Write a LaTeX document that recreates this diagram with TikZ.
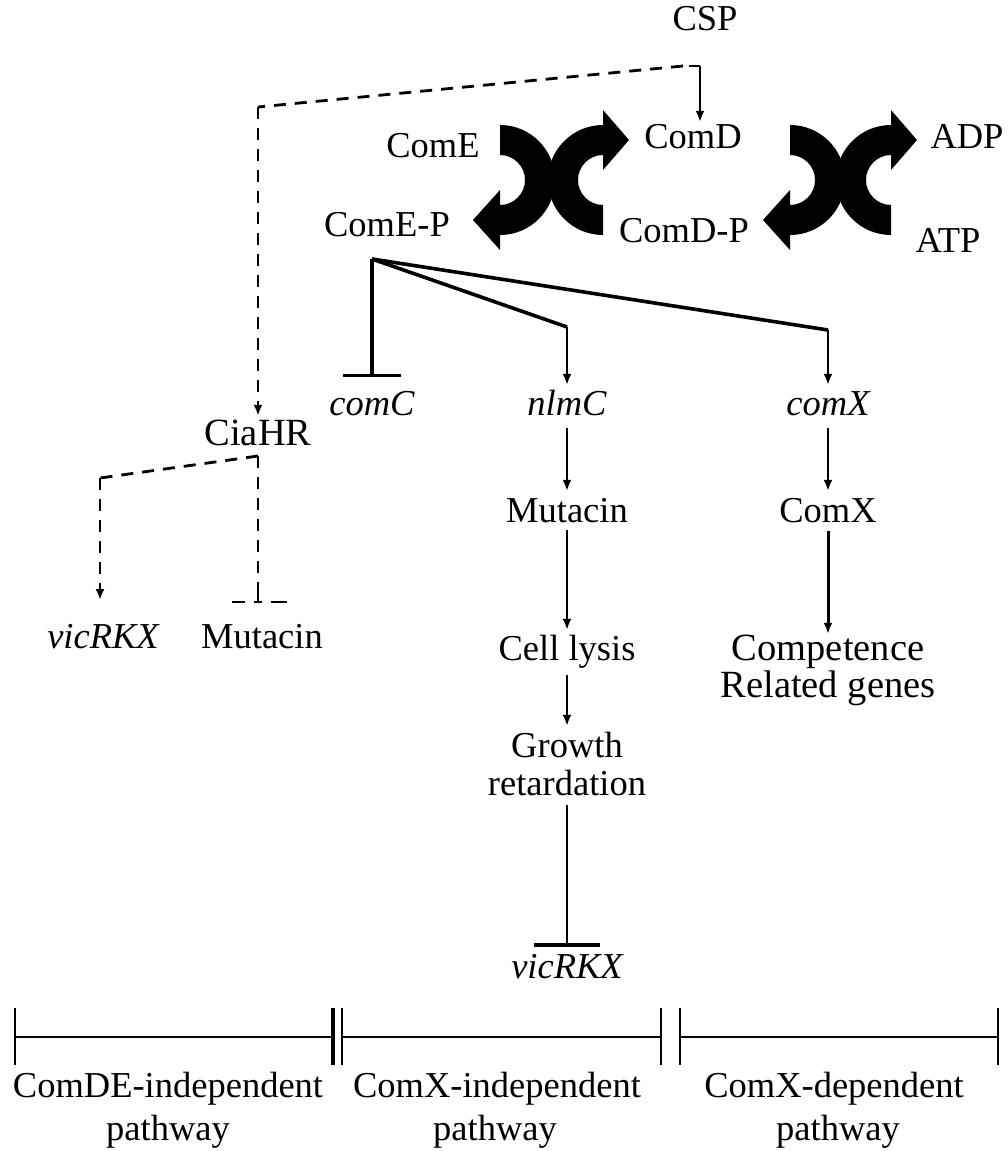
\documentclass[tikz,border=0pt]{standalone}
\usepackage{fontspec}
\setmainfont{Liberation Serif}
\usetikzlibrary{arrows.meta}
\begin{document}
\begin{tikzpicture}[x=1pt,y=-1pt,
  lbl/.style={inner sep=0pt, anchor=base, text height=25pt, text depth=8pt,
              font=\fontsize{36.5}{40}\selectfont},
  biglbl/.style={lbl, font=\fontsize{38.5}{42}\selectfont},
  gene/.style={lbl, font=\fontsize{36.5}{40}\selectfont\itshape},
  thinln/.style={line width=2pt},
  act/.style={thinln, -{Latex[length=11pt,width=9pt]}},
  fanln/.style={line width=3.6pt},
  dashln/.style={line width=2.8pt, dash pattern=on 12pt off 9pt},
  barln/.style={line width=2.6pt},
  twist/.style={fill=black}
]
\useasboundingbox (0,0) rectangle (1007,1151);

% ---------- labels ----------
\node[lbl] (csp)   at (705,30)  {CSP};
\node[lbl] (comE)  at (433,157) {ComE};
\node[lbl] (comD)  at (693,148) {ComD};
\node[lbl] (comEP) at (387,236) {ComE-P};
\node[lbl] (comDP) at (684,242) {ComD-P};
\node[lbl] (adp)   at (967,148) {ADP};
\node[lbl] (atp)   at (948,252) {ATP};

\node[gene] (comC) at (372,415) {comC};
\node[gene] (nlmC) at (567,415) {nlmC};
\node[gene] (comXg) at (828,415) {comX};

\node[biglbl] (cia)  at (258,445) {CiaHR};
\node[gene] (vicL) at (103,648) {vicRKX};
\node[lbl] (mutL) at (262,648) {Mutacin};

\node[lbl] (mut)   at (567,522) {Mutacin};
\node[lbl] (lysis) at (567,660) {Cell lysis};
\node[lbl] (grow)  at (567,757) {Growth};
\node[lbl] (ret)   at (567,795) {retardation};
\node[gene] (vicB) at (567,978) {vicRKX};

\node[lbl] (comX)  at (828,522) {ComX};
\node[biglbl] (comp)  at (828,660) {Competence};
\node[biglbl] (rel)   at (828,697) {Related genes};

% ---------- two-component phosphorelay (twisted arrows) ----------
\foreach \cx in {500,790}{
  \fill[twist] (\cx,125) arc[start angle=-90,end angle=90,radius=55]
     -- (\cx,250) -- (\cx-27,220) -- (\cx,190) -- (\cx,205)
     arc[start angle=90,end angle=-90,radius=25] -- cycle;
}
\foreach \cx in {603,891}{
  \fill[twist] (\cx,235) arc[start angle=90,end angle=270,radius=55]
     -- (\cx,110) -- (\cx+26,140) -- (\cx,170) -- (\cx,155)
     arc[start angle=270,end angle=90,radius=25] -- cycle;
}

% ---------- CSP signal ----------
\coordinate (split) at (700,66);
\coordinate (dstart) at (683,66);
\coordinate (dcorner) at (258,107);
\draw[thinln] (689,66) -- (split);
\draw[act, shorten >=1pt] (split) -- (split |- comD.north);
\draw[dashln] (dstart) -- (dcorner);
\draw[dashln, -{Latex[length=11pt,width=9pt]}, shorten >=4pt] (dcorner) -- (cia.north);

% ---------- ComE-P targets ----------
\coordinate (fan) at (372,259);
\coordinate (nbend) at (567,327);
\coordinate (xbend) at (828,330);
\draw[fanln, -{Bar[width=58pt,line width=2.6pt]}, shorten >=13pt] (fan) -- (fan |- comC.north);
\draw[fanln, line join=round] (fan) -- (nbend);
\draw[act, shorten >=5pt] (nbend) -- (nlmC.north);
\draw[fanln, line join=round] (fan) -- (xbend);
\draw[act, shorten >=5pt] (xbend) -- (comXg.north);

% ---------- ComX-independent branch ----------
\draw[act, shorten <=5pt, shorten >=6pt] (nlmC.south) -- (mut.north);
\draw[act, shorten <=0pt, shorten >=5pt] (mut.south) -- (lysis.north);
\draw[act, shorten <=7pt, shorten >=6pt] (lysis.south) -- (grow.north);
\draw[line width=2.8pt, -{Bar[width=66pt,line width=3.4pt]}, shorten <=2pt, shorten >=6pt]
  (ret.south) -- (vicB.north);

% ---------- ComX-dependent branch ----------
\draw[act, shorten <=5pt, shorten >=6pt] (comXg.south) -- (comX.north);
\draw[line width=3pt, -{Latex[length=11pt,width=9pt]}, shorten <=1pt, shorten >=1pt]
  (comX.south) -- (comp.north);

% ---------- CiaHR branch ----------
\coordinate (cbot) at (258,456);
\coordinate (vcorner) at (100,478);
\coordinate (vtip) at (100,600);
\coordinate (barL) at (232,602);
\coordinate (barR) at (287,602);
\coordinate (stub) at (258,590);
\draw[dashln] (cbot) -- (vcorner);
\draw[dashln, -{Latex[length=11pt,width=9pt]}] (vcorner) -- (vtip);
\draw[dashln] (cbot) -- (stub);
\draw[line width=2.6pt] (stub) -- (cbot |- barL);
\draw[barln, dash pattern=on 13pt off 9pt on 8pt off 9pt on 16pt] (barL) -- (barR);

% ---------- pathway scale bar ----------
\coordinate (s0) at (15,1037);
\coordinate (s1) at (333,1037);
\coordinate (s2) at (342,1037);
\coordinate (s3) at (661,1037);
\coordinate (s4) at (680,1037);
\coordinate (s5) at (998,1037);
\draw[barln] (s0) -- (s1);
\draw[barln] (s2) -- (s3);
\draw[barln] (s4) -- (s5);
\foreach \p in {s0,s2,s3,s4,s5}{
  \draw[barln] ([yshift=29pt]\p) -- ([yshift=-28pt]\p);
}
\draw[line width=3.4pt] ([yshift=29pt]s1) -- ([yshift=-28pt]s1);

\node[lbl] (p1a) at (168,1097) {ComDE-independent};
\node[lbl] (p1b) at (168,1140) {pathway};
\node[lbl] (p2a) at (497,1097) {ComX-independent};
\node[lbl] (p2b) at (495,1140) {pathway};
\node[lbl] (p3a) at (834,1097) {ComX-dependent};
\node[lbl] (p3b) at (838,1140) {pathway};
\end{tikzpicture}
\end{document}
